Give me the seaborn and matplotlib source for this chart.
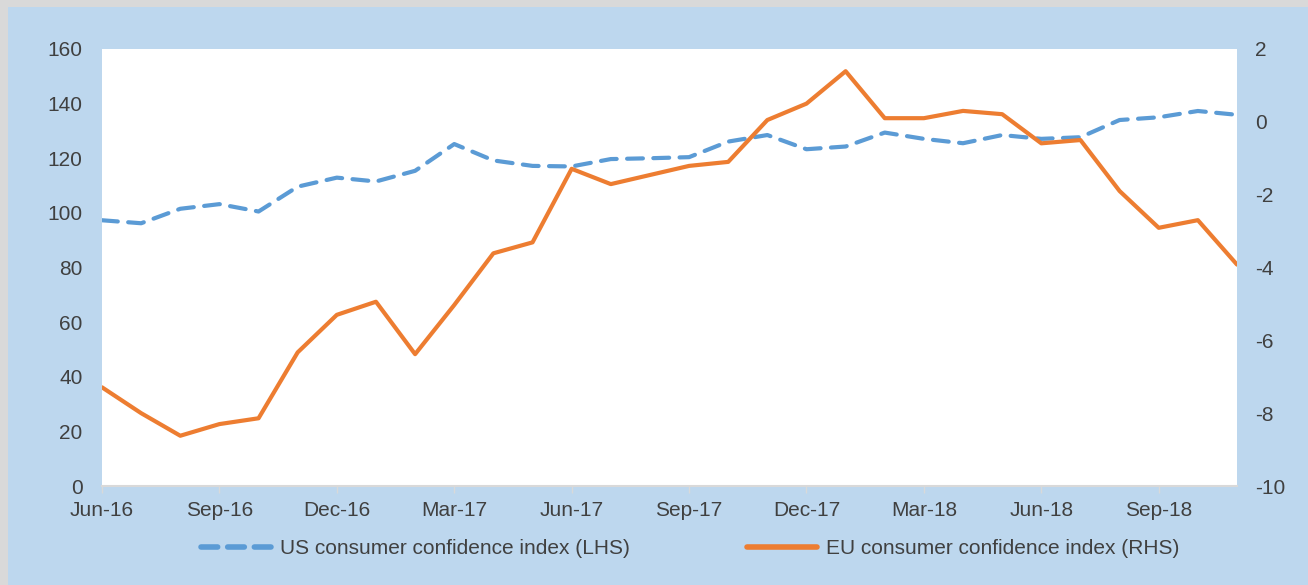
import matplotlib
matplotlib.use("Agg")
import matplotlib.pyplot as plt
import seaborn as sns
from matplotlib.patches import Rectangle

# -------------------------------
# Data
# -------------------------------
months = ["Jun-16", "Jul-16", "Aug-16", "Sep-16", "Oct-16", "Nov-16",
          "Dec-16", "Jan-17", "Feb-17", "Mar-17", "Apr-17", "May-17",
          "Jun-17", "Jul-17", "Aug-17", "Sep-17", "Oct-17", "Nov-17",
          "Dec-17", "Jan-18", "Feb-18", "Mar-18", "Apr-18", "May-18",
          "Jun-18", "Jul-18", "Aug-18", "Sep-18", "Oct-18", "Nov-18"]

us_confidence = [97.3, 96.2, 101.5, 103.2, 100.5, 109.6,
                 112.9, 111.5, 115.4, 125.2, 119.2, 117.2,
                 117.0, 119.7, 120.0, 120.4, 126.1, 128.5,
                 123.3, 124.3, 129.4, 127.1, 125.5, 128.5,
                 127.1, 127.7, 134.0, 135.0, 137.3, 135.9]

eu_confidence = [-7.29, -8.0, -8.62, -8.30, -8.14, -6.33,
                 -5.30, -4.94, -6.38, -5.03, -3.61, -3.31,
                 -1.29, -1.71, -1.46, -1.21, -1.10, 0.05,
                 0.50, 1.39, 0.10, 0.10, 0.30, 0.21,
                 -0.59, -0.50, -1.90, -2.91, -2.70, -3.92]

us_label = "US consumer confidence index (LHS)"
eu_label = "EU consumer confidence index (RHS)"

# -------------------------------
# Style
# -------------------------------
sns.set_theme(style="white")
plt.rcParams['font.family'] = ['Liberation Sans', 'DejaVu Sans']
plt.rcParams['axes.unicode_minus'] = False

blue = "#5B9BD5"
orange = "#ED7D31"
panel = "#BDD7EE"
text_col = "#404040"

fig = plt.figure(figsize=(13.08, 5.85), dpi=100)
fig.patch.set_facecolor("#D9D9D9")
fig.patches.append(Rectangle((8 / 1308, 0), 1, 1 - 7 / 585,
                             transform=fig.transFigure, facecolor=panel,
                             edgecolor="none", zorder=-10))

ax = fig.add_axes([102 / 1308, 99 / 585, 1135 / 1308, 437 / 585])
ax.set_facecolor("white")
ax2 = ax.twinx()

x = list(range(len(months)))

sns.lineplot(x=x, y=us_confidence, ax=ax, color=blue, linewidth=3,
             label=us_label, legend=False)
us_line = ax.lines[0]
us_line.set_linestyle((0, (3.8, 2.5)))
us_line.set_dash_capstyle("round")

sns.lineplot(x=x, y=eu_confidence, ax=ax2, color=orange, linewidth=3,
             label=eu_label, legend=False)

# axes ranges and ticks
ax.set_xlim(0, len(months) - 1)
ax.set_ylim(0, 160)
ax.set_yticks(range(0, 161, 20))
ax2.set_ylim(-10, 2)
ax2.set_yticks(range(-10, 3, 2))

ax.set_xticks(x[::3])
ax.set_xticklabels(months[::3])

for a in (ax, ax2):
    for s in a.spines.values():
        s.set_visible(False)
ax.spines["bottom"].set_visible(True)
ax.spines["bottom"].set_color("#D9D9D9")
ax.spines["bottom"].set_linewidth(1.5)

ax.tick_params(axis="x", bottom=True, length=5, width=1, color="#D9D9D9",
               labelsize=15, labelcolor=text_col, pad=6)
ax.tick_params(axis="y", left=False, length=0, labelsize=15,
               labelcolor=text_col, pad=14)
ax2.tick_params(axis="y", right=False, length=0, labelsize=15,
                labelcolor=text_col, pad=13)
ax.set_xlabel("")
ax.set_ylabel("")
ax2.set_ylabel("")

# legend below the plot
h1, l1 = ax.get_legend_handles_labels()
h2, l2 = ax2.get_legend_handles_labels()
leg = fig.legend(h1 + h2, l1 + l2, loc="center", ncol=2,
                 bbox_to_anchor=(690 / 1308, 1 - 549 / 585), frameon=False,
                 fontsize=15, labelcolor=text_col, handlelength=3.4,
                 handletextpad=0.4, columnspacing=5.6)
for hl in leg.get_lines():
    hl.set_linewidth(4)
    hl.set_dash_capstyle("round")
leg.get_lines()[0].set_linestyle((0, (3.0, 1.8)))

fig.savefig("out.png", dpi=100, facecolor=fig.get_facecolor())
